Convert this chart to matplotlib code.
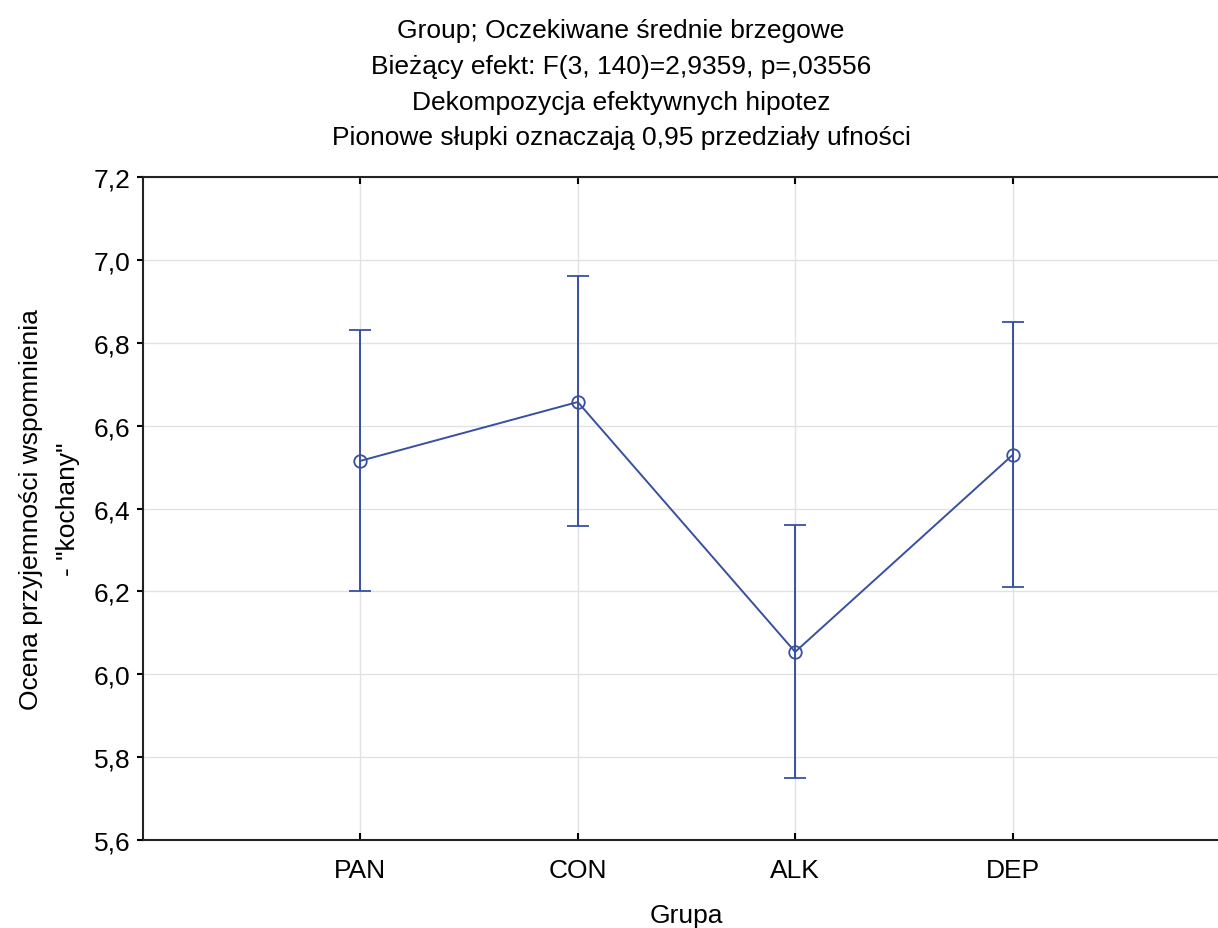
import numpy as np
import matplotlib
matplotlib.use("Agg")
import matplotlib.pyplot as plt
from matplotlib.ticker import FuncFormatter, MultipleLocator

groups = ["PAN", "CON", "ALK", "DEP"]
means = [6.515, 6.657, 6.054, 6.529]
upper = [6.831, 6.961, 6.360, 6.850]
lower = [6.201, 6.358, 5.750, 6.211]

title_lines = [
    "Group; Oczekiwane średnie brzegowe",
    "Bieżący efekt: F(3, 140)=2,9359, p=,03556",
    "Dekompozycja efektywnych hipotez",
    "Pionowe słupki oznaczają 0,95 przedziały ufności",
]

plt.rcParams["font.family"] = ["Liberation Sans", "DejaVu Sans"]
color = "#3850a0"

fig = plt.figure(figsize=(12.18, 9.29), dpi=100)
# axes runs a bit past the right edge of the figure, as in the original export
ax = fig.add_axes([0.1174, 0.0947, 0.8924, 0.7137])

x = np.arange(1, len(groups) + 1)
means = np.array(means)
yerr = [means - np.array(lower), np.array(upper) - means]

ax.errorbar(x, means, yerr=yerr, color=color, linewidth=1.4,
            marker="o", markersize=9, markerfacecolor="none",
            markeredgewidth=1.3, capsize=8, capthick=1.4, zorder=3)

ax.set_xlim(0, 5)
ax.set_ylim(5.6, 7.2)
ax.set_xticks(x)
ax.set_xticklabels(groups)
ax.yaxis.set_major_locator(MultipleLocator(0.2))
ax.yaxis.set_major_formatter(FuncFormatter(lambda v, p: f"{v:.1f}".replace(".", ",")))

ax.grid(True, color="#e2e2e2", linewidth=1.0, zorder=0)
ax.set_axisbelow(True)

for s in ["left", "top", "bottom"]:
    ax.spines[s].set_linewidth(1.5)
    ax.spines[s].set_color("#222222")
ax.spines["right"].set_visible(False)

ax.tick_params(axis="x", direction="in", top=True, length=5, width=1.5,
               labelsize=19, pad=13)
ax.tick_params(axis="y", direction="out", length=4, width=1.5,
               labelsize=19, pad=5)

ax.set_xlabel("Grupa", fontsize=19, labelpad=15)
ax.set_ylabel('Ocena przyjemności wspomnienia\n- "kochany"', fontsize=19,
              labelpad=10, linespacing=1.65)

fig.text(621 / 1218, 1 - 19 / 929, "\n".join(title_lines), fontsize=19,
         ha="center", va="top", linespacing=1.62)

fig.savefig("out.png", dpi=100)
